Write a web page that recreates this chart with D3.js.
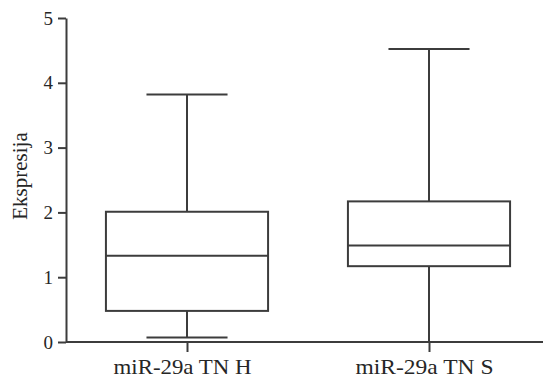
<!DOCTYPE html>
<html>
<head>
<meta charset="utf-8">
<script src="https://cdn.jsdelivr.net/npm/d3@7"></script>
<style>
  html, body { margin: 0; padding: 0; background: #fff; }
  svg { display: block; }
</style>
</head>
<body>
<svg id="chart" width="543" height="380"></svg>
<script>
// Box plot summaries for each group
const categories = ["miR-29a TN H", "miR-29a TN S"];
const whiskerLow  = [0.07, 0.0];
const quartile1   = [0.48, 1.17];
const medians     = [1.33, 1.49];
const quartile3   = [2.01, 2.17];
const whiskerHigh = [3.82, 4.52];
const yTicks = [0, 1, 2, 3, 4, 5];
const yTitle = "Ekspresija";

const ink = "#3c3c3c";
const textInk = "#262626";
const serif = "Liberation Serif";
const svg = d3.select("#chart");

const y = d3.scaleLinear().domain([0, 5]).range([342, 18]);
const x = d3.scalePoint().domain(categories).range([66, 550]).padding(0.5);
const boxW = x.step() * 0.67;
const capW = boxW / 2;

// Y axis
const yAxis = svg.append("g")
  .attr("transform", "translate(66,0)")
  .call(d3.axisLeft(y).tickValues(yTicks).tickFormat(d3.format("d"))
    .tickSize(8).tickSizeOuter(0).tickPadding(5))
  .attr("font-family", serif)
  .attr("font-size", 19);
yAxis.selectAll("path, line").attr("stroke", ink).attr("stroke-width", 2);
yAxis.selectAll("text").attr("fill", textInk);

// X axis
const xAxis = svg.append("g")
  .attr("transform", "translate(0,342)")
  .call(d3.axisBottom(x).tickSize(10).tickSizeOuter(0).tickPadding(7))
  .attr("font-family", serif)
  .attr("font-size", 21);
xAxis.select(".domain").attr("d", "M66,0H550");
xAxis.selectAll("path, line").attr("stroke", ink).attr("stroke-width", 2);
xAxis.selectAll("text").attr("fill", textInk)
  .attr("dx", -5)
  .attr("textLength", 138)
  .attr("lengthAdjust", "spacingAndGlyphs");

// Y axis title
svg.append("text")
  .attr("transform", `translate(27,${(y(0) + y(5)) / 2 - 4}) rotate(-90)`)
  .attr("text-anchor", "middle")
  .attr("font-family", serif)
  .attr("font-size", 21)
  .attr("fill", textInk)
  .text(yTitle);

// Boxes
const data = categories.map((c, i) => ({
  c, lo: whiskerLow[i], q1: quartile1[i], med: medians[i], q3: quartile3[i], hi: whiskerHigh[i]
}));

const g = svg.append("g")
  .attr("stroke", ink).attr("stroke-width", 2).attr("fill", "none");

const boxes = g.selectAll("g.box").data(data).join("g").attr("class", "box");

// whiskers
boxes.append("line")
  .attr("x1", d => x(d.c)).attr("x2", d => x(d.c))
  .attr("y1", d => y(d.q3)).attr("y2", d => y(d.hi));
boxes.append("line")
  .attr("x1", d => x(d.c)).attr("x2", d => x(d.c))
  .attr("y1", d => y(d.q1)).attr("y2", d => y(d.lo));
// caps
boxes.append("line")
  .attr("x1", d => x(d.c) - capW / 2).attr("x2", d => x(d.c) + capW / 2)
  .attr("y1", d => y(d.hi)).attr("y2", d => y(d.hi));
boxes.append("line")
  .attr("x1", d => x(d.c) - capW / 2).attr("x2", d => x(d.c) + capW / 2)
  .attr("y1", d => y(d.lo)).attr("y2", d => y(d.lo));
// box
boxes.append("rect")
  .attr("x", d => x(d.c) - boxW / 2)
  .attr("y", d => y(d.q3))
  .attr("width", boxW)
  .attr("height", d => y(d.q1) - y(d.q3))
  .attr("fill", "#fff");
// median
boxes.append("line")
  .attr("x1", d => x(d.c) - boxW / 2).attr("x2", d => x(d.c) + boxW / 2)
  .attr("y1", d => y(d.med)).attr("y2", d => y(d.med));
</script>
</body>
</html>
